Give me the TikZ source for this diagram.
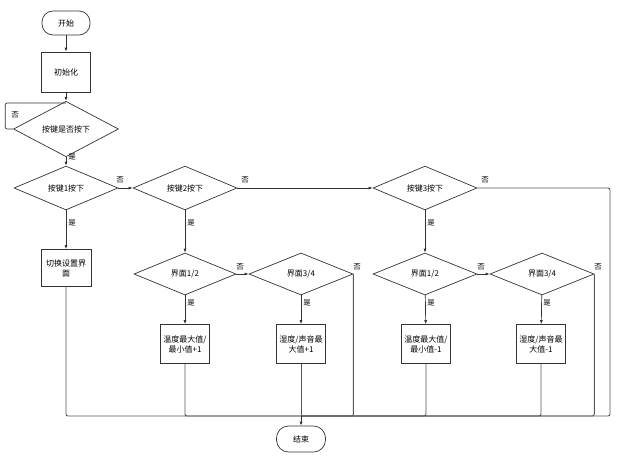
\documentclass[tikz,border=0pt]{standalone}
\usepackage{fontspec}
\newfontfamily\cjk{Noto Sans CJK SC}
\usetikzlibrary{shapes.geometric,arrows.meta}
\begin{document}
\begin{tikzpicture}[x=1pt,y=-1pt,
  every node/.style={font=\cjk\fontsize{8}{10}\selectfont},
  line/.style={draw=black!80, line width=0.7pt},
  merge/.style={draw=black!65, line width=0.9pt, rounded corners=2pt},
  arr/.style={line, -{Latex[length=4pt,width=3pt]}},
  term/.style={draw=black!80, line width=0.7pt, rectangle, rounded corners=11pt, minimum width=48pt, minimum height=24pt, inner sep=0pt},
  proc/.style={draw=black!80, line width=0.7pt, rectangle, minimum width=49pt, minimum height=39pt, inner sep=1pt, align=center},
  dec/.style={draw=black!80, line width=0.7pt, diamond, minimum width=104pt, minimum height=42pt, inner sep=0pt},
  lbl/.style={font=\cjk\fontsize{7.5}{9}\selectfont, inner sep=0pt}]
\useasboundingbox (0,0) rectangle (623,459);
% nodes
\node[term] (start) at (66,23) {开始};
\node[proc, minimum height=40pt] (init) at (66,72) {初始化};
\node[dec, minimum width=105pt, minimum height=38pt] (q0) at (66,129) {按键是否按下};
\node[dec] (q1) at (66,188) {按键1按下};
\node[dec] (q2) at (185,188) {按键2按下};
\node[dec] (q3) at (425,188) {按键3按下};
\node[proc, minimum width=50pt, minimum height=37pt] (set) at (66,268) {切换设置界\\面};
\node[dec, minimum width=102pt] (a12) at (185,274) {界面1/2};
\node[dec] (a34) at (301,274) {界面3/4};
\node[dec] (b12) at (425,274) {界面1/2};
\node[dec] (b34) at (542,274) {界面3/4};
\node[proc] (ba) at (185,344) {温度最大值/\\最小值+1};
\node[proc] (bb) at (301,344) {湿度/声音最\\大值+1};
\node[proc] (bc) at (426,344) {温度最大值/\\最小值-1};
\node[proc] (bd) at (541,344) {湿度/声音最\\大值-1};
\node[term, minimum width=49pt, minimum height=26pt, rounded corners=12pt] (end) at (301,439) {结束};
\coordinate (loopj) at (66,103);
\coordinate (m) at (301,416);
\coordinate (rc) at (610,188);
% labels
\node[lbl] (l0) at (15,115) {否};
\node[lbl] (l1) at (72,157) {是};
\node[lbl] (l2) at (72,223) {是};
\node[lbl] (l3) at (120,180) {否};
\node[lbl] (l4) at (191,223) {是};
\node[lbl] (l5) at (245,180) {否};
\node[lbl] (l6) at (431,223) {是};
\node[lbl] (l7) at (485,180) {否};
\node[lbl] (l8) at (240,267) {否};
\node[lbl] (l9) at (191,303) {是};
\node[lbl] (l10) at (357,267) {否};
\node[lbl] (l11) at (307,303) {是};
\node[lbl] (l12) at (481,267) {否};
\node[lbl] (l13) at (431,303) {是};
\node[lbl] (l14) at (598,267) {否};
\node[lbl] (l15) at (547,303) {是};
% connectors
\draw[arr] (start) -- (init);
\draw[arr] (init) -- (q0);
\draw[line, rounded corners=2pt] (q0.west) -- ++(-8,0) |- (loopj);
\draw[arr] (q0) -- (q1);
\draw[arr] (q1) -- (set);
\draw[arr] (q1.east) -- (q2.west);
\draw[arr] (q2.east) -- (q3.west);
\draw[arr] (q2) -- (a12);
\draw[arr] (q3) -- (b12);
\draw[arr] (a12.east) -- (a34.west);
\draw[arr] (b12.east) -- (b34.west);
\draw[arr] (a12) -- (ba);
\draw[arr] (a34) -- (bb);
\draw[arr] (b12) -- (bc);
\draw[arr] (b34) -- (bd);
\draw[merge] (set.south) |- (m);
\draw[merge] (ba.south) |- (m);
\draw[merge] (bb.south) -- (m);
\draw[merge] (a34.east) |- (m);
\draw[merge] (bc.south) |- (m);
\draw[merge] (bd.south) |- (m);
\draw[merge] (b34.east) |- (m);
\draw[merge] (q3.east) -- (rc) |- (m);
\draw[arr] (m) -- (end);
\end{tikzpicture}
\end{document}
